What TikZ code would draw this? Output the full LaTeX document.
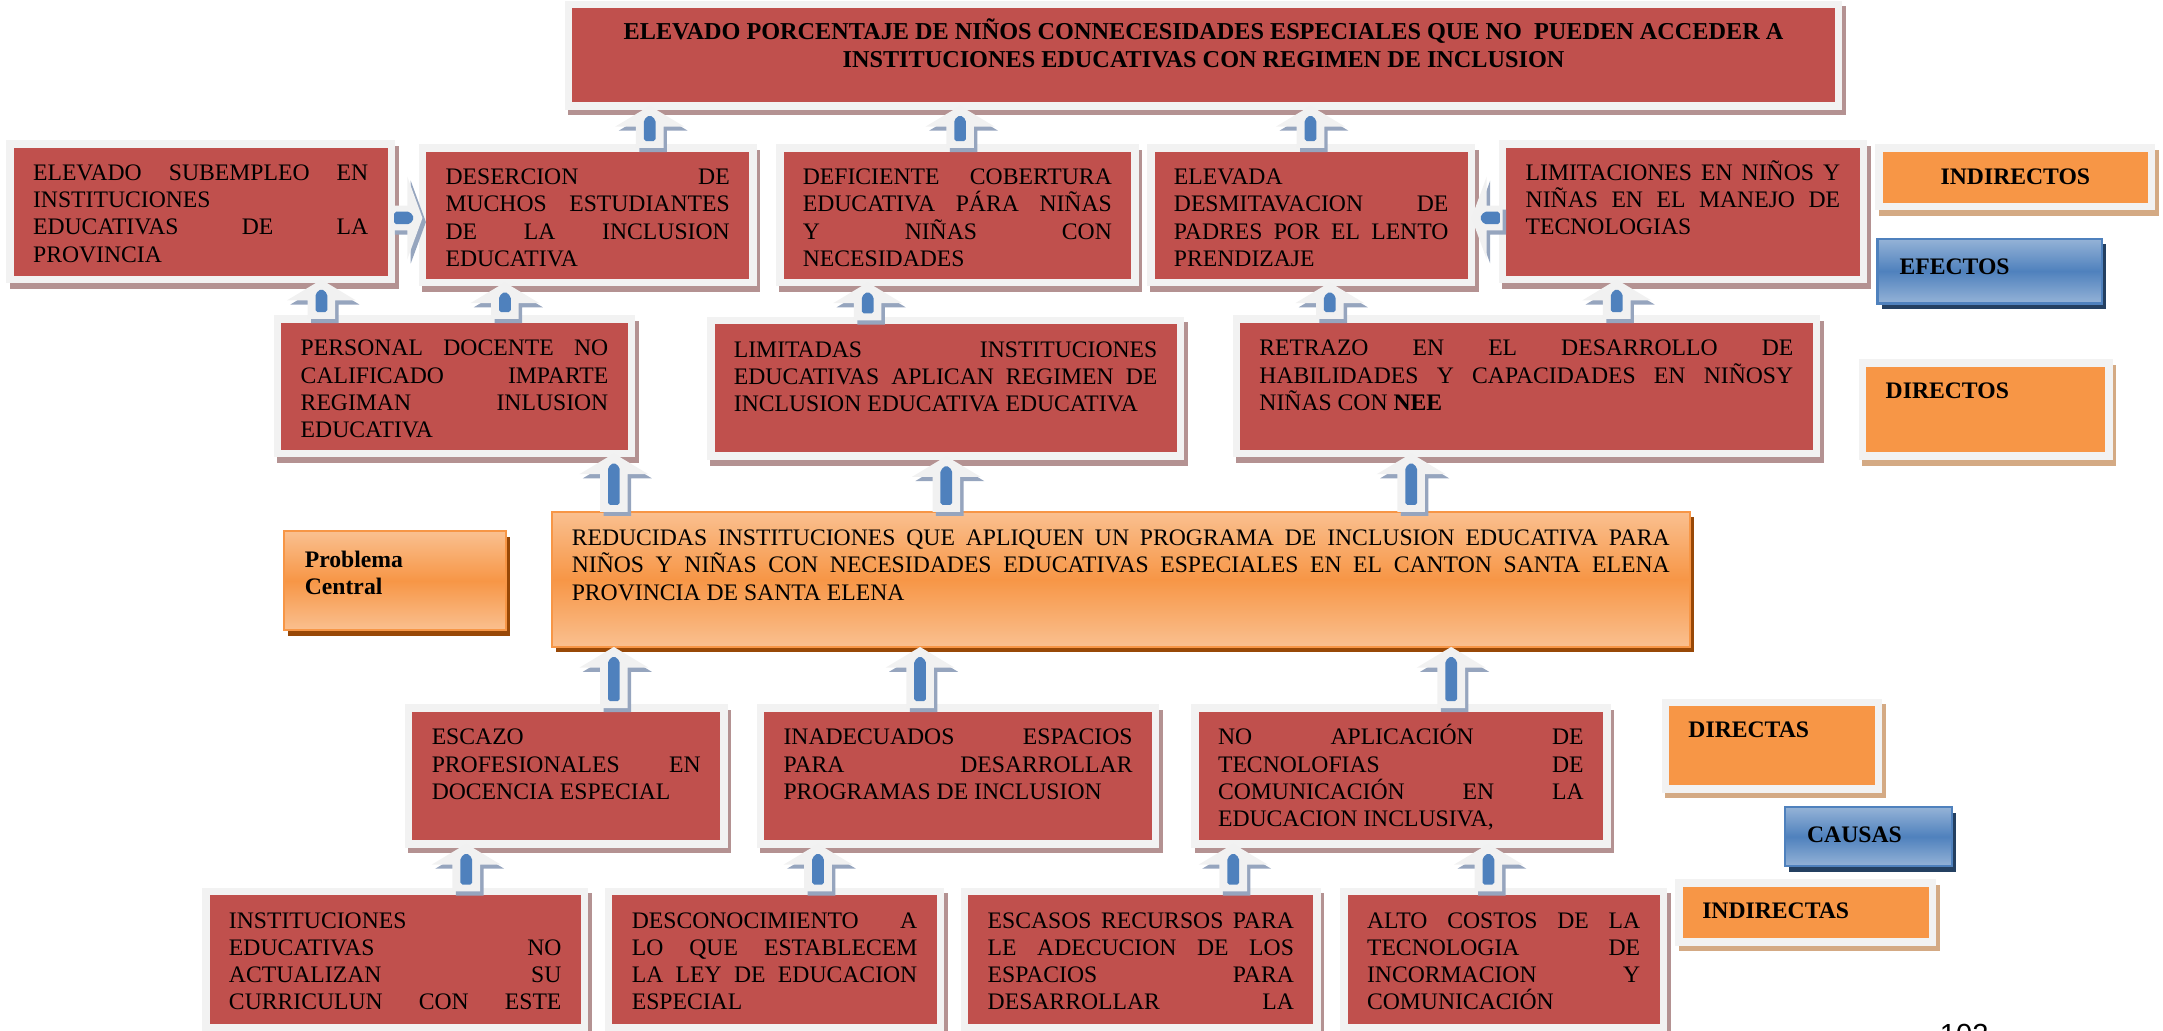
\documentclass[tikz,border=0pt]{standalone}
\usepackage{fontspec}
\setmainfont{Liberation Serif}
\newfontfamily\sinserif{Liberation Sans}
\usetikzlibrary{shadows}

\definecolor{rojo}{RGB}{192,80,77}
\definecolor{marco}{RGB}{242,242,242}
\definecolor{sombraroja}{RGB}{180,146,146}
\definecolor{naranja}{RGB}{247,150,70}
\definecolor{naranjaclaro}{RGB}{250,192,144}
\definecolor{sombranaranja}{RGB}{212,170,132}
\definecolor{cafe}{RGB}{152,72,7}
\definecolor{azul}{RGB}{79,129,189}
\definecolor{azulclaro}{RGB}{149,179,215}
\definecolor{azuloscuro}{RGB}{36,64,97}
\definecolor{cuerpoflecha}{RGB}{241,241,241}
\definecolor{sombraflecha}{RGB}{150,165,190}

\hyphenpenalty=10000
\exhyphenpenalty=10000
\hbadness=10000
\vbadness=10000

\newlength{\unidad}
\setlength{\unidad}{0.025cm}
\newcommand{\letra}{\fontsize{12.2pt}{14pt}\selectfont}
\newcommand{\primera}{\rule{0pt}{12pt}}
\newcommand{\texto}[3]{\parbox[c][#2\unidad][t]{#1\unidad}{\letra\primera #3}}

% flecha de bloque hacia arriba: x, caja de abajo, caja de arriba
\newcommand{\flechaarriba}[3]{%
  \coordinate (fp) at (#1,0 |- #3.south);
  \coordinate (fb) at (#1,0 |- #2.north);
  \fill[sombraflecha, transform canvas={xshift=2.5\unidad, yshift=-3\unidad}]
    (fp) -- ([shift={(25,15)}]fp) -- ([shift={(10,15)}]fp) -- ([shift={(10,0)}]fb)
    -- ([shift={(-10,0)}]fb) -- ([shift={(-10,15)}]fp) -- ([shift={(-25,15)}]fp) -- cycle;
  \fill[cuerpoflecha]
    (fp) -- ([shift={(25,15)}]fp) -- ([shift={(10,15)}]fp) -- ([shift={(10,0)}]fb)
    -- ([shift={(-10,0)}]fb) -- ([shift={(-10,15)}]fp) -- ([shift={(-25,15)}]fp) -- cycle;
  \fill[azul, rounded corners=1pt]
    ([shift={(-4.25,-5)}]fb) -- ([shift={(-4.25,10)}]fp) -- ([shift={(0,6.5)}]fp)
    -- ([shift={(4.25,10)}]fp) -- ([shift={(4.25,-5)}]fb) -- cycle;
}
% flecha de bloque horizontal: y, origen, destino, sentido
\newcommand{\flechalado}[4]{%
  \coordinate (fp) at (#3 |- 0,#1);
  \coordinate (fb) at (#2 |- 0,#1);
  \fill[sombraflecha, transform canvas={xshift=2.5\unidad, yshift=-3\unidad}]
    (fp) -- ([shift={({-11*#4},-30)}]fp) -- ([shift={({-11*#4},-9)}]fp) -- ([shift={(0,-9)}]fb)
    -- ([shift={(0,9)}]fb) -- ([shift={({-11*#4},9)}]fp) -- ([shift={({-11*#4},30)}]fp) -- cycle;
  \fill[cuerpoflecha]
    (fp) -- ([shift={({-11*#4},-30)}]fp) -- ([shift={({-11*#4},-9)}]fp) -- ([shift={(0,-9)}]fb)
    -- ([shift={(0,9)}]fb) -- ([shift={({-11*#4},9)}]fp) -- ([shift={({-11*#4},30)}]fp) -- cycle;
  \fill[azul, rounded corners=1pt]
    ([shift={({2*#4},-4.5)}]fb) -- ([shift={({-9*#4},-4.5)}]fp) -- ([shift={({-6*#4},0)}]fp)
    -- ([shift={({-9*#4},4.5)}]fp) -- ([shift={({2*#4},4.5)}]fb) -- cycle;
}

\tikzset{
  cajaroja/.style={fill=rojo, draw=marco, line width=5.5\unidad, inner sep=0pt, outer sep=0pt,
    drop shadow={shadow xshift=2.5\unidad, shadow yshift=-4\unidad, opacity=1, fill=sombraroja, draw=sombraroja}},
  cajanaranja/.style={fill=naranja, draw=marco, line width=5.5\unidad, inner sep=0pt, outer sep=0pt,
    drop shadow={shadow xshift=2.5\unidad, shadow yshift=-4\unidad, opacity=1, fill=sombranaranja, draw=sombranaranja}},
  cajaazul/.style={top color=azulclaro, bottom color=azulclaro, middle color=azul, draw=azul,
    line width=1.5\unidad, inner sep=0pt, outer sep=0pt,
    drop shadow={shadow xshift=3\unidad, shadow yshift=-4\unidad, opacity=1, fill=azuloscuro}},
  problema/.style={top color=naranjaclaro, bottom color=naranjaclaro, middle color=naranja, draw=naranja,
    line width=1.5\unidad, inner sep=0pt, outer sep=0pt,
    drop shadow={shadow xshift=3\unidad, shadow yshift=-4\unidad, opacity=1, fill=cafe}},
}

\begin{document}
\begin{tikzpicture}[x=0.025cm, y=-0.025cm]
\useasboundingbox (0,0) rectangle (1568,747);

% efectos indirectos
\node[cajaroja, minimum width=920.5\unidad, minimum height=73.5\unidad] (titulo) at (872.5,40)
  {\texto{887}{55.8}{\fontsize{12.5pt}{14.4pt}\selectfont\centering\bfseries ELEVADO PORCENTAJE DE NIÑOS CONNECESIDADES ESPECIALES QUE NO~ PUEDEN ACCEDER A\\ INSTITUCIONES EDUCATIVAS CON REGIMEN DE INCLUSION}};
\node[cajaroja, minimum width=276.5\unidad, minimum height=98.5\unidad] (e1) at (145.5,153.5)
  {\texto{243}{78.8}{ELEVADO SUBEMPLEO EN\linebreak INSTITUCIONES\linebreak EDUCATIVAS DE LA\linebreak PROVINCIA}};
\node[cajaroja, minimum width=239.5\unidad, minimum height=97.5\unidad] (e2) at (426,156)
  {\texto{206}{77.8}{DESERCION DE\linebreak MUCHOS ESTUDIANTES\linebreak DE LA INCLUSION\linebreak EDUCATIVA}};
\node[cajaroja, minimum width=257.5\unidad, minimum height=97.5\unidad] (e3) at (694,156)
  {\texto{224}{77.8}{DEFICIENTE COBERTURA\linebreak EDUCATIVA PÁRA NIÑAS\linebreak Y NIÑAS CON\linebreak NECESIDADES}};
\node[cajaroja, minimum width=232.5\unidad, minimum height=97.5\unidad] (e4) at (950.5,156)
  {\texto{199}{77.8}{ELEVADA\linebreak DESMITAVACION DE\linebreak PADRES POR EL LENTO\linebreak PRENDIZAJE}};
\node[cajaroja, minimum width=261.5\unidad, minimum height=98.5\unidad] (e5) at (1220,153.5)
  {\texto{228}{78.8}{LIMITACIONES EN NIÑOS Y\linebreak NIÑAS EN EL MANEJO DE\linebreak TECNOLOGIAS}};

% efectos directos
\node[cajaroja, minimum width=256.5\unidad, minimum height=97.5\unidad] (d1) at (329.5,280)
  {\texto{223}{77.8}{PERSONAL DOCENTE NO\linebreak CALIFICADO IMPARTE\linebreak REGIMAN INLUSION\linebreak EDUCATIVA}};
\node[cajaroja, minimum width=340.5\unidad, minimum height=98.5\unidad] (d2) at (685.5,281.5)
  {\texto{307}{78.8}{LIMITADAS INSTITUCIONES\linebreak EDUCATIVAS APLICAN REGIMEN DE\linebreak INCLUSION EDUCATIVA EDUCATIVA}};
\node[cajaroja, minimum width=420.5\unidad, minimum height=97.5\unidad] (d3) at (1106.5,280)
  {\texto{387}{77.8}{RETRAZO EN EL DESARROLLO DE\linebreak HABILIDADES Y CAPACIDADES EN NIÑOSY\linebreak NIÑAS CON \textbf{NEE}}};

% problema central
\node[problema, minimum width=825\unidad, minimum height=98\unidad] (central) at (812.5,420)
  {\texto{796}{82.4}{REDUCIDAS INSTITUCIONES QUE APLIQUEN UN PROGRAMA DE INCLUSION EDUCATIVA PARA\linebreak NIÑOS Y NIÑAS CON NECESIDADES EDUCATIVAS ESPECIALES EN EL CANTON SANTA ELENA\linebreak PROVINCIA DE SANTA ELENA}};
\node[problema, minimum width=161\unidad, minimum height=72\unidad] (etiqueta) at (286.5,421)
  {\texto{131}{52.8}{\bfseries Problema\\ Central}};

% causas directas
\node[cajaroja, minimum width=228.5\unidad, minimum height=98.5\unidad] (c1) at (410.5,562.5)
  {\texto{195}{78.8}{ESCAZO\linebreak PROFESIONALES EN\linebreak DOCENCIA ESPECIAL}};
\node[cajaroja, minimum width=286.5\unidad, minimum height=98.5\unidad] (c2) at (694.5,562.5)
  {\texto{253}{78.8}{INADECUADOS ESPACIOS\linebreak PARA DESARROLLAR\linebreak PROGRAMAS DE INCLUSION}};
\node[cajaroja, minimum width=298.5\unidad, minimum height=98.5\unidad] (c3) at (1015.5,562.5)
  {\texto{265}{78.8}{NO APLICACIÓN DE\linebreak TECNOLOFIAS DE\linebreak COMUNICACIÓN EN LA\linebreak EDUCACION INCLUSIVA,}};

% causas indirectas
\node[cajaroja, minimum width=274.5\unidad, minimum height=98.5\unidad] (i1) at (286.5,695.5)
  {\texto{241}{78.8}{\parfillskip=0pt INSTITUCIONES\linebreak EDUCATIVAS NO\linebreak ACTUALIZAN SU\linebreak CURRICULUN CON ESTE}};
\node[cajaroja, minimum width=240.5\unidad, minimum height=98.5\unidad] (i2) at (561.5,695.5)
  {\texto{207}{78.8}{DESCONOCIMIENTO A\linebreak LO QUE ESTABLECEM\linebreak LA LEY DE EDUCACION\linebreak ESPECIAL}};
\node[cajaroja, minimum width=255.5\unidad, minimum height=98.5\unidad] (i3) at (827,695.5)
  {\texto{222}{78.8}{\parfillskip=0pt ESCASOS RECURSOS PARA\linebreak LE ADECUCION DE LOS\linebreak ESPACIOS PARA\linebreak DESARROLLAR LA}};
\node[cajaroja, minimum width=231.5\unidad, minimum height=98.5\unidad] (i4) at (1090,695.5)
  {\texto{198}{78.8}{ALTO COSTOS DE LA\linebreak TECNOLOGIA DE\linebreak INCORMACION Y\linebreak COMUNICACIÓN}};

% leyenda
\node[cajanaranja, minimum width=197.5\unidad, minimum height=42.5\unidad] (indirectos) at (1461,128.5)
  {\texto{164}{22.8}{\centering\bfseries INDIRECTOS}};
\node[cajaazul, minimum width=163\unidad, minimum height=47\unidad] (efectos) at (1442.5,196.5)
  {\texto{131}{29.4}{\bfseries EFECTOS}};
\node[cajanaranja, minimum width=178.5\unidad, minimum height=67.5\unidad] (directos) at (1439.5,297)
  {\texto{145}{50.4}{\bfseries DIRECTOS}};
\node[cajanaranja, minimum width=154.5\unidad, minimum height=62.5\unidad] (directas) at (1284.5,540.5)
  {\texto{121}{45.4}{\bfseries DIRECTAS}};
\node[cajaazul, minimum width=121\unidad, minimum height=43\unidad] (causas) at (1354.5,606.5)
  {\texto{89}{25.4}{\bfseries CAUSAS}};
\node[cajanaranja, minimum width=183.5\unidad, minimum height=42.5\unidad] (indirectas) at (1309,661.5)
  {\texto{150}{25.4}{\bfseries INDIRECTAS}};

\node[anchor=north west, inner sep=0pt, font=\sinserif\fontsize{15pt}{18pt}\selectfont] (pagina) at (1406,742) {102};

% flechas
\flechaarriba{471}{e2}{titulo}
\flechaarriba{696}{e3}{titulo}
\flechaarriba{950}{e4}{titulo}
\flechalado{158}{e1.east}{e2.west}{1}
\flechalado{158}{e5.west}{e4.east}{-1}
\flechaarriba{233}{d1}{e1}
\flechaarriba{366}{d1}{e2}
\flechaarriba{629}{d2}{e3}
\flechaarriba{964}{d3}{e4}
\flechaarriba{1172}{d3}{e5}
\flechaarriba{445}{central}{d1}
\flechaarriba{686}{central}{d2}
\flechaarriba{1023}{central}{d3}
\flechaarriba{445}{c1}{central}
\flechaarriba{667}{c2}{central}
\flechaarriba{1052}{c3}{central}
\flechaarriba{338}{i1}{c1}
\flechaarriba{593}{i2}{c2}
\flechaarriba{894}{i3}{c3}
\flechaarriba{1079}{i4}{c3}
\end{tikzpicture}
\end{document}
